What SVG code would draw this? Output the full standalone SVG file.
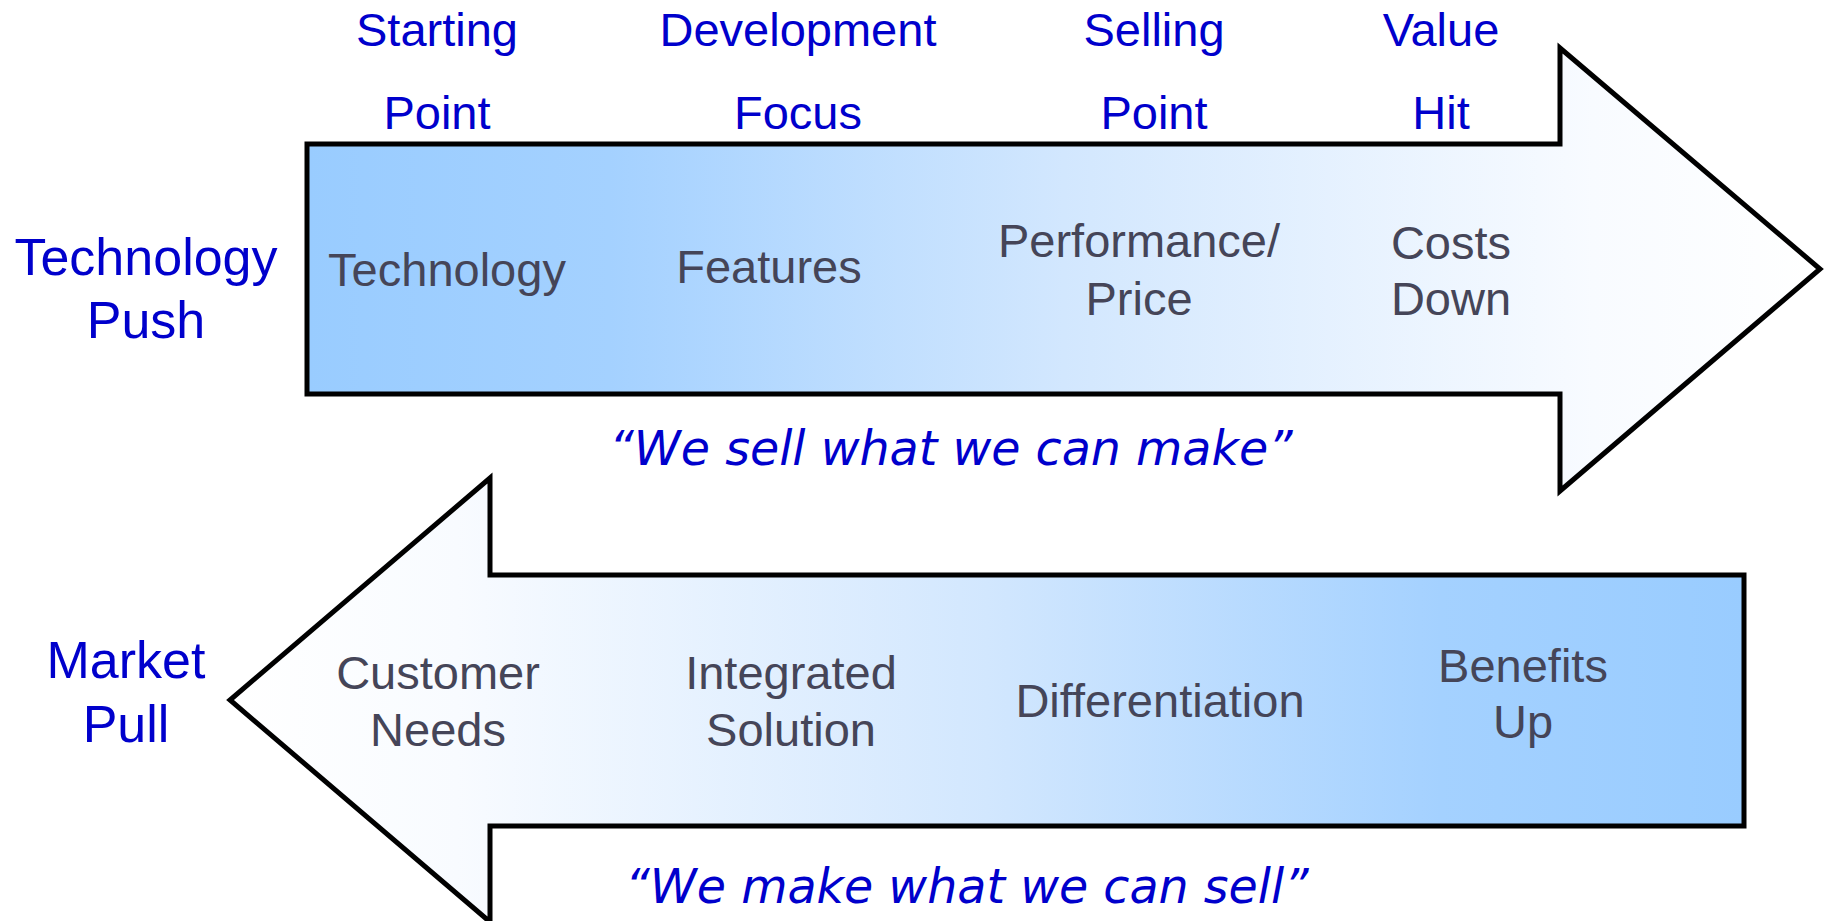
<svg xmlns="http://www.w3.org/2000/svg" width="1825" height="921" viewBox="0 0 1825 921">
<defs>
<linearGradient id="gPush" x1="0" y1="0" x2="1" y2="0">
<stop offset="0" stop-color="#99CCFF"/>
<stop offset="0.2" stop-color="#A4D1FF"/>
<stop offset="0.5" stop-color="#D2E7FE"/>
<stop offset="0.85" stop-color="#F8FBFF"/>
<stop offset="1" stop-color="#FFFFFF"/>
</linearGradient>
<linearGradient id="gPull" x1="1" y1="0" x2="0" y2="0">
<stop offset="0" stop-color="#99CCFF"/>
<stop offset="0.2" stop-color="#A4D1FF"/>
<stop offset="0.5" stop-color="#D2E7FE"/>
<stop offset="0.85" stop-color="#F8FBFF"/>
<stop offset="1" stop-color="#FFFFFF"/>
</linearGradient>
</defs>
<style>
.arrow{stroke:#000;stroke-width:5;stroke-linejoin:miter}
.hdr{font-family:"Liberation Sans",Arial,sans-serif;font-size:47px;fill:#0000CC;text-anchor:middle}
.side{font-family:"Liberation Sans",Arial,sans-serif;font-size:52px;fill:#0000CC;text-anchor:middle}
.in{font-family:"Liberation Sans",Arial,sans-serif;font-size:47px;fill:#454558;text-anchor:middle}
.quote{font-family:"DejaVu Sans",sans-serif;font-style:italic;font-size:47.5px;fill:#0000CC;text-anchor:middle}
</style>
<rect width="1825" height="921" fill="#FFFFFF"/>
<g id="connectors"/>
<g id="headers">
<text class="hdr" x="437" y="46">Starting</text>
<text class="hdr" x="437" y="129">Point</text>
<text class="hdr" x="798" y="46">Development</text>
<text class="hdr" x="798" y="129">Focus</text>
<text class="hdr" x="1154" y="46">Selling</text>
<text class="hdr" x="1154" y="129">Point</text>
<text class="hdr" x="1441" y="46">Value</text>
<text class="hdr" x="1441" y="129">Hit</text>
</g>
<g id="technology-push">
<polygon class="arrow" fill="url(#gPush)" points="307,144 1560,144 1560,48 1820,269 1560,491 1560,394 307,394"/>
<text class="side" x="146" y="275">Technology</text>
<text class="side" x="146" y="338">Push</text>
<text class="in" x="447" y="286">Technology</text>
<text class="in" x="769" y="283">Features</text>
<text class="in" x="1139" y="257">Performance/</text>
<text class="in" x="1139" y="315">Price</text>
<text class="in" x="1451" y="259">Costs</text>
<text class="in" x="1451" y="315">Down</text>
<text class="quote" x="951" y="465">“We sell what we can make”</text>
</g>
<g id="market-pull">
<polygon class="arrow" fill="url(#gPull)" points="1744,575 490,575 490,478 230,700 490,922 490,826 1744,826"/>
<text class="side" x="126" y="678">Market</text>
<text class="side" x="126" y="742">Pull</text>
<text class="in" x="438" y="689">Customer</text>
<text class="in" x="438" y="746">Needs</text>
<text class="in" x="791" y="689">Integrated</text>
<text class="in" x="791" y="746">Solution</text>
<text class="in" x="1160" y="717">Differentiation</text>
<text class="in" x="1523" y="682">Benefits</text>
<text class="in" x="1523" y="738">Up</text>
<text class="quote" x="967" y="903">“We make what we can sell”</text>
</g>
</svg>
